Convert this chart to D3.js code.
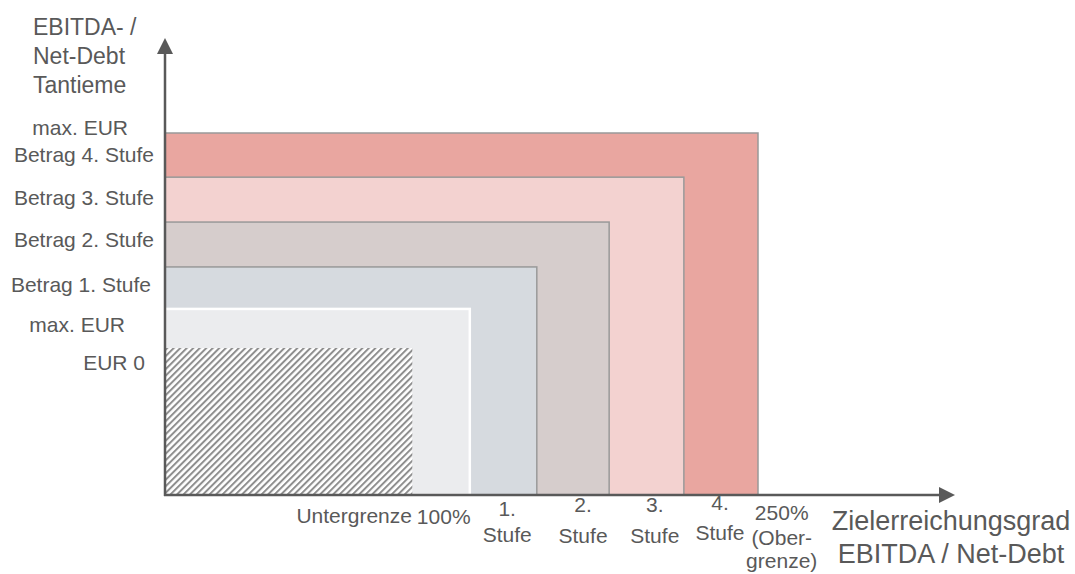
<!DOCTYPE html>
<meta charset="utf-8">
<html>
<style>
  body { margin: 0; background: #fff; }
  .chart text {
    fill: #595959;
    font-family: "Liberation Sans", Arial, sans-serif;
  }
</style>
<script type="text/javascript" src="https://cdn.jsdelivr.net/npm/d3@7"></script>

<body>
  <svg class="chart"></svg>
</body>
<script>
  var width = 1075;
  var height = 574;

  // stages of the bonus model (achievement thresholds and amounts, in chart units)
  var tiers = ["Untergrenze", "100%", "1. Stufe", "2. Stufe", "3. Stufe", "4. Stufe"];
  var tierX = [41.7, 51.4, 62.7, 74.9, 87.5, 100];
  var tierY = [40.6, 51.4, 63.0, 75.4, 87.8, 100];
  var tierColors = ["hatch", "#ebecee", "#d6dadf", "#d6cdcc", "#f3d2d0", "#e9a6a0"];

  // y tick labels (amounts) and where they sit
  var yLabels = ["EUR 0", "max. EUR", "Betrag 1. Stufe", "Betrag 2. Stufe", "Betrag 3. Stufe", "Betrag 4. Stufe", "max. EUR"];
  var yTickVals = [34.5, 45.0, 56.1, 68.5, 80.1, 92.0, 99.4];
  var yLabelEnd = [145, 125, 151, 154, 154, 154, 128];

  // x tick labels (achievement levels)
  var xLabels = [["Untergrenze"], ["100%"], ["1.", "Stufe"], ["2.", "Stufe"], ["3.", "Stufe"], ["4.", "Stufe"], ["250%", "(Ober-", "grenze)"]];
  var xTickVals = [31.9, 47.0, 57.7, 70.5, 82.6, 93.6, 104.0];
  var xLabelBase = [[523], [524], [516, 542], [512, 543], [512, 543], [510, 540], [520, 545, 568]];

  var yTitle = ["EBITDA- /", "Net-Debt", "Tantieme"];
  var xTitle = ["Zielerreichungsgrad", "EBITDA / Net-Debt"];

  var x = d3.scaleLinear().domain([0, 100]).range([165, 758]);
  var y = d3.scaleLinear().domain([0, 100]).range([495, 133]);

  var chart = d3.select(".chart")
    .attr("width", width)
    .attr("height", height);

  var defs = chart.append("defs");
  var pat = defs.append("pattern")
    .attr("id", "hatch")
    .attr("patternUnits", "userSpaceOnUse")
    .attr("width", 4.6)
    .attr("height", 4.6)
    .attr("patternTransform", "rotate(45)");
  pat.append("rect").attr("width", 4.6).attr("height", 4.6).attr("fill", "#fff");
  pat.append("line")
    .attr("x1", 1).attr("x2", 1)
    .attr("y1", 0).attr("y2", 4.6)
    .attr("stroke", "#8e8e8e")
    .attr("stroke-width", 2);

  // nested rectangles, biggest first
  var order = d3.range(tiers.length).reverse();
  chart.selectAll("rect.tier")
    .data(order)
    .enter().append("rect")
    .attr("class", "tier")
    .attr("x", x(0))
    .attr("y", function(i) { return y(tierY[i]); })
    .attr("width", function(i) { return x(tierX[i]) - x(0); })
    .attr("height", function(i) { return y(0) - y(tierY[i]); })
    .attr("fill", function(i) { return tierColors[i] == "hatch" ? "url(#hatch)" : tierColors[i]; })
    .attr("stroke", function(i) {
      if (i == 0) return "none";
      return i == 1 ? "#ffffff" : "#999999";
    })
    .attr("stroke-width", function(i) { return i == 1 ? 2.5 : 1.5; });

  // axes with arrow heads
  var axisColor = "#595959";
  chart.append("line")
    .attr("x1", x(0)).attr("x2", x(0))
    .attr("y1", y(0) + 1).attr("y2", 50)
    .attr("stroke", axisColor).attr("stroke-width", 2.5);
  chart.append("path")
    .attr("d", "M" + x(0) + ",38 L" + (x(0) - 8) + ",54 L" + (x(0) + 8) + ",54 Z")
    .attr("fill", axisColor);
  chart.append("line")
    .attr("x1", x(0) - 1).attr("x2", 942)
    .attr("y1", y(0)).attr("y2", y(0))
    .attr("stroke", axisColor).attr("stroke-width", 2.5);
  chart.append("path")
    .attr("d", "M955," + y(0) + " L939," + (y(0) - 8) + " L939," + (y(0) + 8) + " Z")
    .attr("fill", axisColor);

  // y labels
  chart.selectAll("text.ylab")
    .data(yLabels)
    .enter().append("text")
    .attr("class", "ylab")
    .attr("x", function(d, i) { return yLabelEnd[i]; })
    .attr("y", function(d, i) { return y(yTickVals[i]); })
    .attr("text-anchor", "end")
    .style("font-size", "21px")
    .text(function(d) { return d; });

  // x labels
  var xl = chart.selectAll("text.xlab")
    .data(xLabels)
    .enter().append("text")
    .attr("class", "xlab")
    .attr("text-anchor", "middle")
    .style("font-size", "21px");
  xl.each(function(d, i) {
    var t = d3.select(this);
    d.forEach(function(line, j) {
      t.append("tspan")
        .attr("x", x(xTickVals[i]))
        .attr("y", xLabelBase[i][j])
        .text(line);
    });
  });

  // axis titles
  chart.selectAll("text.ytitle")
    .data(yTitle)
    .enter().append("text")
    .attr("class", "ytitle")
    .attr("x", 33)
    .attr("y", function(d, i) { return 35 + i * 29; })
    .style("font-size", "23px")
    .text(function(d) { return d; });

  chart.selectAll("text.xtitle")
    .data(xTitle)
    .enter().append("text")
    .attr("class", "xtitle")
    .attr("x", 951)
    .attr("y", function(d, i) { return 530 + i * 33; })
    .attr("text-anchor", "middle")
    .style("font-size", "27px")
    .text(function(d) { return d; });
</script>

</html>
